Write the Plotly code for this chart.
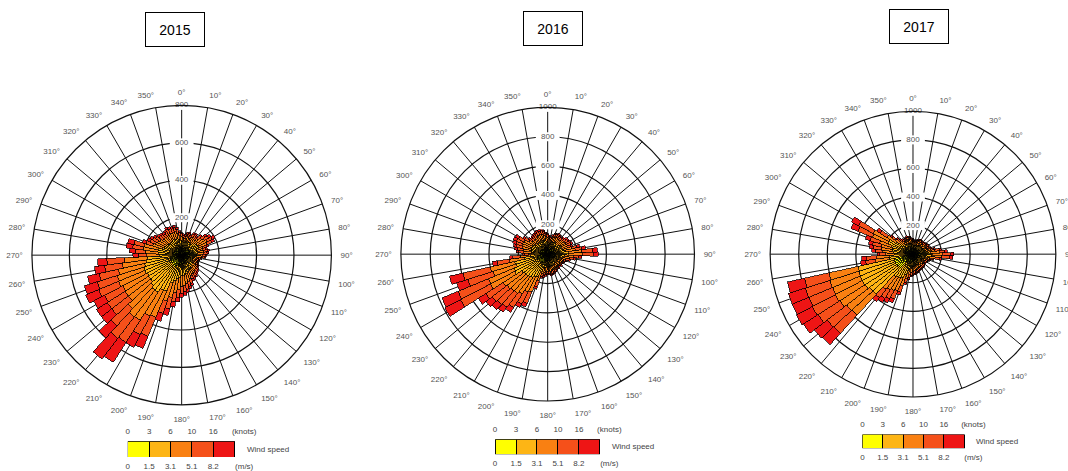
import plotly.graph_objects as go

# ---------------- data ----------------
directions = list(range(0, 360, 5))          # 5-degree direction bins
angle_ticks = list(range(0, 360, 10))
angle_labels = [f"{a}°" for a in angle_ticks]

speed_colors = ["#FFFF00", "#FDB515", "#F98012", "#F5501A", "#EE1515"]
knots_labels = ["0", "3", "6", "10", "16", "(knots)"]
ms_labels = ["0", "1.5", "3.1", "5.1", "8.2", "(m/s)"]
years = ["2015", "2016", "2017"]
radial_max = [800, 1000, 1000]
radial_rings = [[200, 400, 600, 800], [200, 400, 600, 800, 1000], [200, 400, 600, 800, 1000]]

# 2015 counts per speed class (0-3, 3-6, 6-10, 10-16, 16+ knots)
y2015_c1 = [38,36,35,38,40,37,40,41,38,42,45,46,48,47,42,40,42,41,40,40,36,33,32,33,34,35,37,38,39,41,
            42,42,44,45,46,47,47,48,50,52,55,63,65,70,70,67,64,64,64,65,65,63,60,58,48,48,50,50,46,45,
            45,44,43,43,42,43,44,43,43,43,42,39]
y2015_c2 = [36,35,33,37,38,36,40,41,38,44,48,52,55,53,44,41,43,42,40,38,33,30,29,30,32,33,36,37,38,41,
            42,44,50,54,58,62,64,70,78,90,100,145,147,165,165,155,145,145,143,148,146,140,130,125,70,74,78,77,60,56,
            53,51,48,46,45,46,49,48,46,48,44,38]
y2015_c3 = [26,24,23,27,28,26,30,31,29,34,40,45,50,47,34,32,35,34,30,28,23,21,19,21,22,23,26,27,28,31,
            32,34,40,45,50,54,58,66,75,90,102,152,155,178,180,165,150,150,148,152,150,143,130,125,68,74,80,78,56,50,
            47,44,39,38,36,38,40,39,38,39,34,28]
y2015_c4 = [14,13,13,15,16,14,17,18,17,20,24,27,30,28,20,18,20,19,17,16,12,11,10,11,12,13,14,15,17,18,
            19,20,24,27,30,33,36,42,49,62,70,110,113,140,145,125,112,112,110,115,112,105,95,92,46,52,57,56,38,32,
            30,27,23,22,21,22,24,23,22,23,20,17]
y2015_c5 = [6,7,6,8,8,7,8,9,8,10,13,15,17,15,10,9,10,9,8,8,6,5,5,5,5,6,7,8,8,9,
            10,10,12,14,16,19,20,24,28,36,43,70,75,127,140,88,69,69,65,75,72,64,55,50,28,32,35,34,20,17,
            15,14,12,11,11,11,13,12,11,12,10,8]

# 2016
y2016_c1 = [42,40,38,41,43,44,45,44,43,45,46,46,47,47,46,50,52,52,52,50,47,45,42,40,39,38,39,38,39,39,
            40,41,42,42,43,42,42,43,45,45,52,60,62,65,66,67,68,70,80,80,75,76,58,50,45,48,49,50,50,50,
            50,47,45,45,45,46,46,47,46,46,45,43]
y2016_c2 = [42,39,36,40,45,46,48,47,45,48,51,52,54,55,53,64,72,88,90,66,56,48,42,39,38,36,38,36,38,38,
            39,40,42,44,45,42,42,45,48,50,72,108,112,125,130,132,135,140,170,168,150,155,100,70,48,60,63,65,67,68,
            67,56,50,48,49,50,52,54,53,53,49,45]
y2016_c3 = [31,28,26,30,34,35,36,35,34,36,39,41,42,44,42,55,66,92,93,58,46,36,31,28,27,26,27,26,27,27,
            28,30,31,32,34,31,31,34,36,42,68,112,118,132,140,142,145,150,190,188,165,170,105,68,40,55,59,62,64,66,
            64,50,40,36,38,40,41,42,42,42,38,34]
y2016_c4 = [17,15,13,16,19,20,21,20,19,21,23,24,25,26,25,36,46,75,76,39,28,21,17,15,14,13,14,13,14,14,
            15,16,17,18,19,17,17,19,21,24,42,85,90,110,120,126,130,140,230,225,180,190,85,50,25,35,39,41,44,45,
            44,31,24,21,22,23,24,25,25,25,22,19]
y2016_c5 = [8,8,7,8,9,10,10,10,9,10,11,12,12,13,12,19,24,33,34,19,13,10,8,8,7,7,7,7,7,7,
            8,8,8,9,9,8,8,9,10,9,16,25,28,38,44,48,52,60,120,119,80,94,32,22,12,17,20,22,25,26,
            25,16,11,10,11,11,12,12,12,12,11,9]

# 2017
y2017_c1 = [36,33,32,34,36,37,38,37,36,37,38,39,40,39,42,45,48,52,55,54,48,43,40,38,37,36,36,37,38,38,
            39,39,40,41,42,42,43,45,47,50,58,64,66,68,70,130,130,135,137,136,136,134,60,58,52,55,56,57,58,62,
            63,55,48,45,42,40,39,40,41,40,39,37]
y2017_c2 = [33,30,29,32,33,34,36,34,33,34,36,38,39,38,42,48,58,70,80,78,58,45,39,36,34,33,33,34,36,36,
            38,38,39,40,42,44,45,48,54,70,95,116,120,125,130,250,252,262,265,263,263,260,110,105,75,85,90,92,100,125,
            128,85,60,48,42,39,38,39,40,39,38,34]
y2017_c3 = [23,21,19,22,23,24,26,24,23,24,26,27,28,27,31,36,50,62,70,70,50,34,28,26,24,23,23,24,26,26,
            27,27,28,30,31,32,34,36,42,55,78,97,100,105,110,200,203,210,212,210,212,208,95,92,63,73,78,80,88,120,
            124,76,50,36,31,28,27,28,30,28,27,24]
y2017_c4 = [12,11,10,12,12,13,13,13,12,13,13,14,15,14,17,21,30,38,55,53,30,19,15,13,13,12,12,13,13,13,
            14,14,15,16,17,18,19,21,25,32,48,64,68,70,75,170,172,180,182,180,180,176,70,70,42,52,58,61,70,110,
            114,57,29,21,17,15,14,15,16,15,14,13]
y2017_c5 = [6,5,5,5,6,7,7,7,6,7,7,7,8,7,8,10,14,18,25,25,14,9,8,7,7,6,6,7,7,7,
            7,7,8,8,8,9,9,10,12,13,21,29,31,32,35,110,113,123,124,126,124,122,35,35,18,25,28,30,34,53,
            56,27,13,10,8,8,7,8,8,8,7,7]

year_data = [
    [y2015_c1, y2015_c2, y2015_c3, y2015_c4, y2015_c5],
    [y2016_c1, y2016_c2, y2016_c3, y2016_c4, y2016_c5],
    [y2017_c1, y2017_c2, y2017_c3, y2017_c4, y2017_c5],
]
for classes in year_data:
    for c in classes:
        assert len(c) == len(directions)

# ---------------- layout geometry (pixels) ----------------
W, H = 1068, 471
rose_geom = [(180, 259, 152), (546.7, 258, 149), (912.7, 258, 145)]   # cx, cy, radius
legend_geom = [(126, 448, 464, 21.4), (494, 446, 461, 21.0), (862, 441, 455, 20.4)]  # x0, ytop, ybot, seg
title_geom = [(173, 29.5), (552.5, 29), (918.5, 27)]

FONT = "Liberation Sans, Arial, sans-serif"
fig = go.Figure()
layout = dict(width=W, height=H, margin=dict(l=0, r=0, t=0, b=0),
              paper_bgcolor="white", plot_bgcolor="white", showlegend=False,
              barmode="stack", font=dict(family=FONT))

for k, (yr, classes) in enumerate(zip(years, year_data)):
    pname = "polar" if k == 0 else f"polar{k+1}"
    for ci, vals in enumerate(classes):
        fig.add_trace(go.Barpolar(r=vals, theta=directions, width=5, subplot=pname,
                                  marker=dict(color=speed_colors[ci], line=dict(color="black", width=0.7)),
                                  hoverinfo="skip"))
    rings = radial_rings[k]
    fig.add_trace(go.Scatterpolar(r=rings, theta=[0] * len(rings), subplot=pname, mode="markers+text",
                                  text=[str(v) for v in rings], textposition="middle center",
                                  textfont=dict(size=8, color="#555"), cliponaxis=False,
                                  marker=dict(symbol="line-ew", size=17, color="white",
                                              line=dict(color="white", width=9)),
                                  hoverinfo="skip"))
    cx, cy, rad = rose_geom[k]
    layout[pname] = dict(
        domain=dict(x=[(cx - rad) / W, (cx + rad) / W], y=[(H - cy - rad) / H, (H - cy + rad) / H]),
        bgcolor="white",
        angularaxis=dict(rotation=90, direction="clockwise", tickmode="array",
                         tickvals=angle_ticks, ticktext=angle_labels,
                         tickfont=dict(size=8, color="#555", family=FONT),
                         ticks="outside", ticklen=7, tickcolor="rgba(0,0,0,0)",
                         showgrid=True, gridcolor="#111", gridwidth=1,
                         showline=True, linecolor="#111", linewidth=1.2),
        radialaxis=dict(range=[0, radial_max[k]], tickvals=rings, showticklabels=False,
                        ticks="", showline=False, showgrid=True, gridcolor="#111", gridwidth=1.2),
    )

    # legend colour strip
    x0, ytop, ybot, seg = legend_geom[k]
    xb = f"x{2*k+1}" if k else "x"
    xt = f"x{2*k+2}"
    ya = f"y{k+1}" if k else "y"
    for ci, col in enumerate(speed_colors):
        fig.add_trace(go.Bar(x=[1], y=[0], orientation="h", xaxis=xb, yaxis=ya, width=1,
                             marker=dict(color=col, line=dict(color="black", width=1)),
                             hoverinfo="skip"))
    fig.add_trace(go.Scatter(x=[0, 7], y=[0, 0], xaxis=xt, yaxis=ya, mode="markers",
                             marker=dict(opacity=0), hoverinfo="skip"))
    dom_x = [x0 / W, (x0 + 7 * seg) / W]
    dom_y = [(H - ybot) / H, (H - ytop) / H]
    tick_pos = [0, 1, 2, 3, 4, 5.45]
    xb_name = "xaxis" if k == 0 else f"xaxis{2*k+1}"
    xt_name = f"xaxis{2*k+2}"
    ya_name = "yaxis" if k == 0 else f"yaxis{k+1}"
    layout[xb_name] = dict(domain=dom_x, range=[0, 7], anchor=ya, tickmode="array",
                           tickvals=tick_pos, ticktext=ms_labels, showgrid=False, zeroline=False,
                           showline=False, ticks="outside", ticklen=1, tickcolor="rgba(0,0,0,0)",
                           tickfont=dict(size=8, color="#444"), fixedrange=True)
    layout[xt_name] = dict(domain=dom_x, range=[0, 7], anchor=ya, overlaying=xb, side="top",
                           tickmode="array", tickvals=tick_pos, ticktext=knots_labels,
                           showgrid=False, zeroline=False, showline=False, ticks="outside",
                           ticklen=3, tickcolor="rgba(0,0,0,0)",
                           tickfont=dict(size=8, color="#444"), fixedrange=True)
    layout[ya_name] = dict(domain=dom_y, range=[-0.5, 0.5], anchor=xb, showticklabels=False,
                           showgrid=False, zeroline=False, showline=False, fixedrange=True)

annotations = []
for k, yr in enumerate(years):
    annotations.append(dict(text="Wind speed", xref="x" if k == 0 else f"x{2*k+1}",
                            yref="y" if k == 0 else f"y{k+1}", x=5.5, y=0, xanchor="left",
                            showarrow=False, font=dict(size=8, color="#444")))
    tx, ty = title_geom[k]
    annotations.append(dict(text=yr, xref="paper", yref="paper", x=tx / W, y=(H - ty) / H,
                            xanchor="center", yanchor="middle", showarrow=False,
                            width=58, height=33, borderpad=0, bordercolor="black", borderwidth=1,
                            bgcolor="white", font=dict(size=14, color="black", family=FONT)))
layout["annotations"] = annotations
fig.update_layout(**layout)
fig.write_html("out.html", config={"displayModeBar": False, "staticPlot": True},
               post_script="document.body.style.margin='0';document.body.style.overflow='hidden';")
